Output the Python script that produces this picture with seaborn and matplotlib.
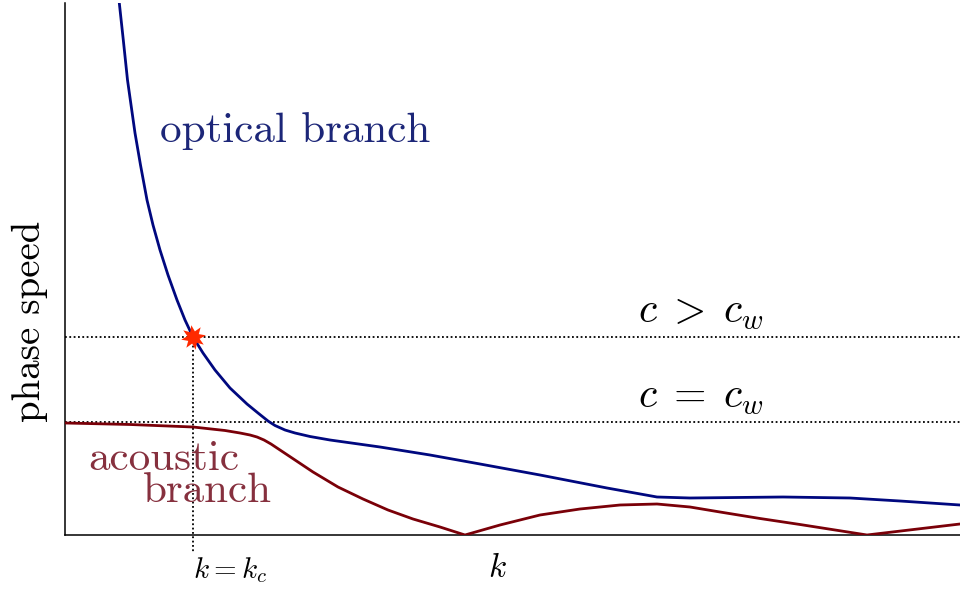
import matplotlib
matplotlib.use("Agg")
import matplotlib.pyplot as plt
import seaborn as sns
import pandas as pd

# ---- data (arbitrary units: wavenumber k, phase speed c) ----
k_optical = [0.537, 0.543, 0.583, 0.625, 0.70, 0.755, 0.82, 0.88, 0.95, 1.03, 1.12, 1.20,
             1.28, 1.38, 1.50, 1.65, 1.82, 1.93, 2.03, 2.10, 2.20, 2.30, 2.45, 2.65,
             3.15, 3.65, 4.15, 4.75, 5.42, 5.92, 6.25, 7.18, 7.85, 8.35, 8.95]
c_optical = [5.35, 5.32, 4.95, 4.55, 4.02, 3.70, 3.35, 3.10, 2.85, 2.60, 2.35, 2.15,
             1.98, 1.82, 1.65, 1.47, 1.31, 1.22, 1.14, 1.095, 1.05, 1.02, 0.985, 0.95,
             0.88, 0.80, 0.71, 0.60, 0.47, 0.38, 0.37, 0.38, 0.37, 0.34, 0.30]

k_acoustic = [0.0, 0.65, 1.28, 1.60, 1.75, 1.85, 1.92, 1.99, 2.06, 2.15, 2.30, 2.48,
              2.73, 2.98, 3.23, 3.48, 3.75, 4.00, 4.35, 4.75, 5.15, 5.55, 5.92, 6.25,
              6.55, 6.95, 7.35, 8.02, 8.95]
c_acoustic = [1.12, 1.105, 1.08, 1.045, 1.02, 1.0, 0.98, 0.95, 0.91, 0.85, 0.75, 0.63,
              0.48, 0.36, 0.25, 0.16, 0.08, 0.0, 0.10, 0.20, 0.26, 0.30, 0.31, 0.28,
              0.23, 0.165, 0.105, 0.0, 0.11]

c_w = 1.13          # c = c_w
c_star = 1.98       # c > c_w
k_c = 1.28          # critical wavenumber

sns.set_theme(style="white")
plt.rcParams["font.family"] = ["cmr10", "DejaVu Serif"]
plt.rcParams["mathtext.fontset"] = "cm"
plt.rcParams["axes.unicode_minus"] = False
plt.rcParams["text.color"] = "black"

BLUE = "#00087f"
RED = "#7a0008"

fig = plt.figure(figsize=(9.6, 5.91), dpi=100)
ax = fig.add_axes([65 / 960, 56 / 591, 895 / 960, 532 / 591])

df_opt = pd.DataFrame({"k": k_optical, "c": c_optical})
df_ac = pd.DataFrame({"k": k_acoustic, "c": c_acoustic})

dot = dict(color="black", lw=1.3, linestyle=(0, (1, 1.4)))
ax.axhline(c_star, **dot, zorder=1)
ax.axhline(c_w, **dot, zorder=1)
ax.plot([k_c, k_c], [c_star, -0.17], **dot, clip_on=False, zorder=1)

sns.lineplot(data=df_ac, x="k", y="c", ax=ax, color=RED, lw=2.0,
             sort=False, estimator=None, zorder=3)
sns.lineplot(data=df_opt, x="k", y="c", ax=ax, color=BLUE, lw=2.0,
             sort=False, estimator=None, zorder=3)
ax.plot([k_c], [c_star], marker=(8, 1, 10), color="#ff2a00", markersize=18,
        markeredgewidth=0, zorder=4)

ax.set_xlim(0, 8.95)
ax.set_ylim(0, 5.32)
ax.set_xticks([])
ax.set_yticks([])
ax.set_xlabel("")
ax.set_ylabel("")
for s in ["top", "right"]:
    ax.spines[s].set_visible(False)
for s in ["left", "bottom"]:
    ax.spines[s].set_color("black")
    ax.spines[s].set_linewidth(1.1)

ax.text(0.95, 3.93, "optical branch", color="#1c2678", fontsize=31,
        ha="left", va="baseline")
ax.text(0.23, 0.65, "acoustic", color="#86303e", fontsize=31,
        ha="left", va="baseline")
ax.text(0.78, 0.33, "branch", color="#86303e", fontsize=31,
        ha="left", va="baseline")
ax.text(5.73, 2.12, r"$c\;>\;c_w$", fontsize=30, color="black",
        ha="left", va="baseline")
ax.text(5.73, 1.27, r"$c\;=\;c_w$", fontsize=30, color="black",
        ha="left", va="baseline")
ax.text(1.28, -0.43, r"$k = k_c$", fontsize=21, color="black",
        ha="left", va="baseline", clip_on=False)
ax.text(4.23, -0.42, r"$k$", fontsize=24, color="black",
        ha="left", va="baseline", clip_on=False)
fig.text(30 / 960, 1 - 321 / 591, "phase speed", fontsize=28, rotation=90,
         color="black", ha="center", va="center")

fig.savefig("out.png", dpi=100)
